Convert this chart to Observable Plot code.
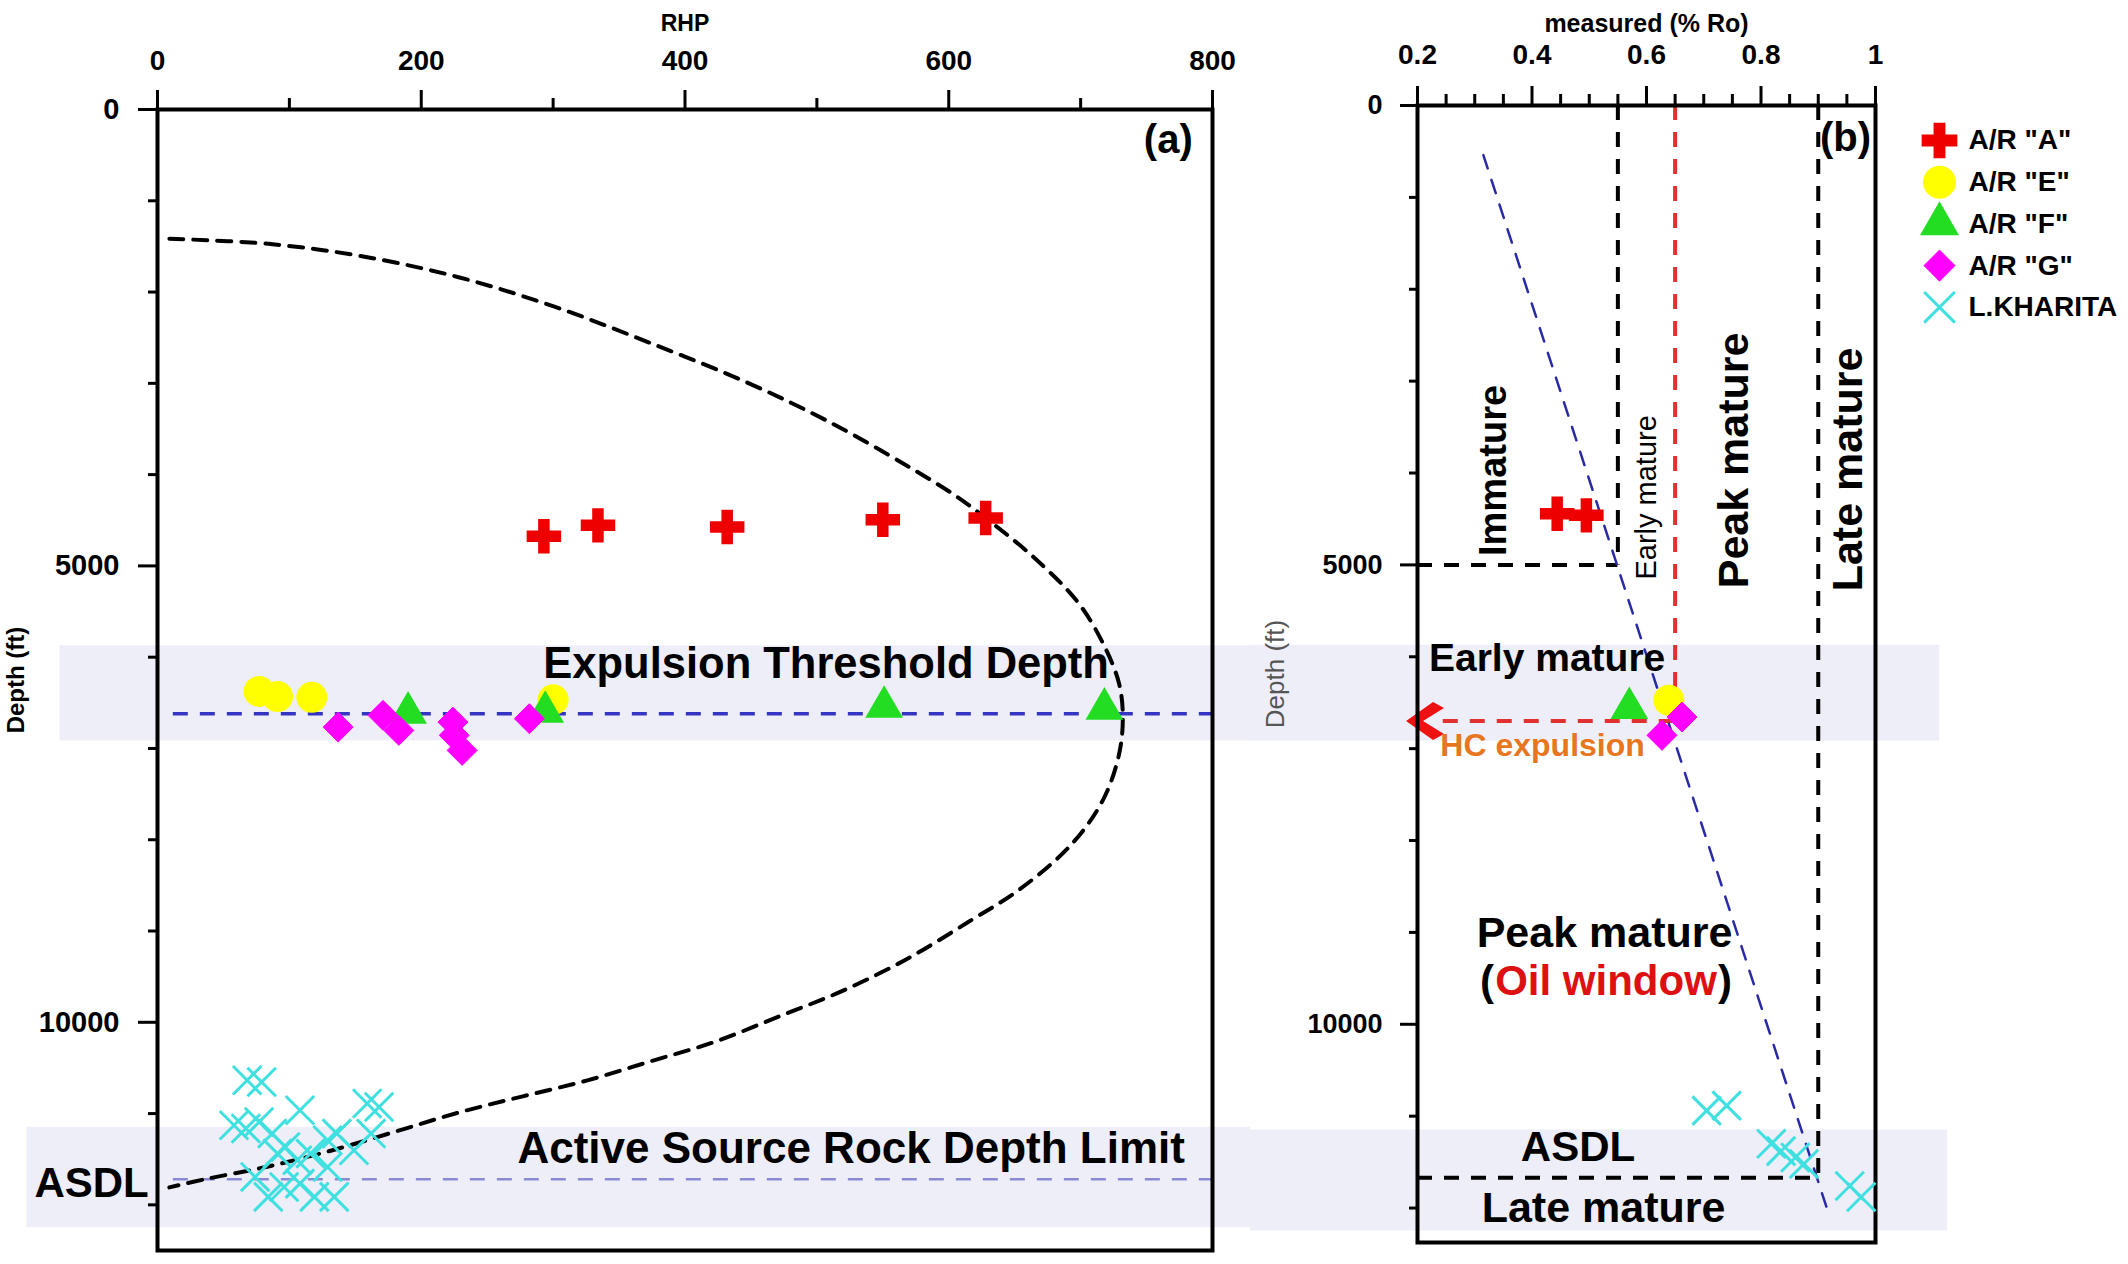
<!DOCTYPE html>
<html><head><meta charset="utf-8">
<script src="https://cdn.jsdelivr.net/npm/d3@7"></script>
<script src="https://cdn.jsdelivr.net/npm/@observablehq/plot@0.6"></script>
<style>
body{margin:0;background:#fff;}
#fig{position:relative;width:2128px;height:1264px;background:#fff;overflow:hidden;}
#pa{position:absolute;left:0;top:0;width:1250px;height:1264px;}
#pb{position:absolute;left:1250px;top:0;width:878px;height:1264px;}
</style></head><body>
<div id="fig"><div id="pa"></div><div id="pb"></div></div>
<script>
// ---------- DATA ----------
const seriesNames = ['A/R "A"', 'A/R "E"', 'A/R "F"', 'A/R "G"', 'L.KHARITA'];

// Panel (a): RHP vs depth (ft)
const rhpA = [293, 334, 432, 550, 628];
const depRhpA = [4674, 4556, 4575, 4494, 4476];
const rhpE = [77, 91, 117, 300];
const depRhpE = [6375, 6430, 6440, 6465];
const rhpF = [190, 294, 551, 718];
const depRhpF = [6610, 6600, 6545, 6565];
const rhpG = [137, 171, 183, 224, 225, 231, 282];
const depRhpG = [6766, 6637, 6802, 6711, 6856, 7021, 6674];
const rhpK = [68, 79, 58, 67, 77, 87, 108, 97, 106, 116, 129, 136, 159, 168, 162, 149, 74, 84, 96, 108, 119, 134, 129, 91];
const depRhpK = [10635, 10654, 11128, 11164, 11092, 11219, 10964, 11366, 11511, 11438, 11292, 11219, 10890, 10928, 11219, 11402, 11694, 11913, 11804, 11767, 11913, 11913, 11585, 11438];

// RHP envelope curve (dashed)
const curveRhp = [9, 84, 156, 229, 301, 374, 447, 509, 568, 605, 628, 664, 698, 717, 729, 732, 729, 717, 693, 654, 616, 568, 519, 471, 422, 374, 326, 277, 229, 181, 132, 84, 36, 9];
const curveDepth = [1416, 1472, 1610, 1840, 2160, 2560, 2990, 3420, 3900, 4230, 4476, 4900, 5400, 5850, 6280, 6655, 7073, 7563, 8052, 8541, 8891, 9309, 9658, 9938, 10217, 10427, 10636, 10811, 10986, 11195, 11404, 11579, 11719, 11809];

const etdDepth = 6620;      // expulsion threshold depth
const asdlDepthA = 11720;   // active source rock depth limit
const bandDepths = [[5875, 6918], [11150, 12250]];

// Panel (b): measured Ro vs depth (ft)
const roA = [0.444, 0.495];
const depRoA = [4443, 4461];
const roE = [0.639];
const depRoE = [6474];
const roF = [0.57];
const depRoF = [6560];
const roG = [0.662, 0.627];
const depRoG = [6656, 6855];
const roK = [0.705, 0.74, 0.818, 0.835, 0.86, 0.875, 0.955, 0.975];
const depRoK = [10940, 10885, 11300, 11380, 11450, 11520, 11760, 11880];

const roEarly = 0.55, roPeak = 0.65, roLate = 0.9;
const immatureDepth = 5000, hcDepth = 6700, asdlDepthB = 11670;
const trendRo = [0.315, 0.915];
const trendDepth = [540, 12000];

// ticks
const xTicksA = [0, 200, 400, 600, 800];
const xMinorA = [100, 300, 500, 700];
const yTicks = [0, 5000, 10000];
const yMinorA = [1000, 2000, 3000, 4000, 6000, 7000, 8000, 9000, 11000, 12000];
const xTicksB = [0.2, 0.4, 0.6, 0.8, 1];
const xMinorB = [0.25, 0.3, 0.35, 0.45, 0.5, 0.55, 0.65, 0.7, 0.75, 0.85, 0.9, 0.95];
const yMinorB = [1000, 2000, 3000, 4000, 6000, 7000, 8000, 9000, 11000, 12000];

// ---------- STYLE ----------
const FONT = '"Liberation Sans", Arial, Helvetica, sans-serif';
const bandColor = "#eeeef9";
const colA = "#ee0000", colE = "#ffff00", colF = "#22dd22", colG = "#ff00ff", colK = "#40e0e0";
const pts = (xs, ys) => xs.map((x, i) => ({x, y: ys[i]}));
const lbl = (t, o) => Plot.text([t], {text: d => d, fill: "black", lineAnchor: "middle", textAnchor: "middle", ...o});

const dotA = (d) => Plot.dot(d, {x: "x", y: "y", symbol: "cross", fill: colA, r: 14.5});
const dotE = (d) => Plot.dot(d, {x: "x", y: "y", symbol: "circle", fill: colE, r: 15.5});
const dotF = (d) => Plot.dot(d, {x: "x", y: "y", symbol: "triangle", fill: colF, r: 14});
const dotG = (d) => Plot.dot(d, {x: "x", y: "y", symbol: "diamond2", fill: colG, stroke: colG, strokeWidth: 1, r: 13.5});
const dotK = (d) => Plot.dot(d, {x: "x", y: "y", symbol: "times", stroke: colK, strokeWidth: 3, r: 13});

// ---------- PANEL (a) ----------
const bandAx1 = [-74, -99], bandAx2 = 829;
const plotA = Plot.plot({
  width: 1250, height: 1264,
  marginLeft: 157, marginRight: 38, marginTop: 109, marginBottom: 14,
  style: {background: "transparent", overflow: "visible", fontFamily: FONT, fontWeight: "bold", color: "black"},
  x: {domain: [0, 800], axis: null},
  y: {domain: [0, 12500], reverse: true, axis: null},
  marks: [
    Plot.rect(bandDepths, {x1: (d, i) => bandAx1[i], x2: bandAx2, y1: d => d[0], y2: d => d[1], fill: bandColor}),
    Plot.ruleY([etdDepth], {x1: 12, x2: 800, stroke: "#3535c4", strokeWidth: 3.5, strokeDasharray: "15,12"}),
    Plot.ruleY([asdlDepthA], {x1: 12, x2: 800, stroke: "#8a8ad4", strokeWidth: 2.5, strokeDasharray: "15,12"}),
    Plot.line(d3.zip(curveRhp, curveDepth), {x: d => d[0], y: d => d[1], stroke: "black", strokeWidth: 4, strokeDasharray: "14,10", curve: "catmull-rom"}),
    Plot.frame({stroke: "black", strokeWidth: 4}),
    Plot.axisX(xTicksA, {anchor: "top", tickSize: 20, tickPadding: 20, fontSize: 28, strokeWidth: 3, label: null, tickFormat: d => String(d)}),
    Plot.axisX(xMinorA, {anchor: "top", tickSize: 12, strokeWidth: 3, label: null, tickFormat: () => ""}),
    Plot.axisY(yTicks, {anchor: "left", tickSize: 19, tickPadding: 19, fontSize: 29, strokeWidth: 3, label: null, tickFormat: d => String(d)}),
    Plot.axisY(yMinorA, {anchor: "left", tickSize: 9, strokeWidth: 3, label: null, tickFormat: () => ""}),
    lbl("RHP", {frameAnchor: "top", dy: -86, fontSize: 23}),
    lbl("Depth (ft)", {frameAnchor: "left", dx: -141, rotate: -90, fontSize: 24}),
    lbl("(a)", {x: 785, y: 340, textAnchor: "end", fontSize: 40}),
    lbl("Expulsion Threshold Depth", {x: 507, y: 6075, fontSize: 43.5}),
    lbl("Active Source Rock Depth Limit", {x: 526, y: 11391, fontSize: 44}),
    lbl("ASDL", {x: -50, y: 11763, fontSize: 42}),
    dotA(pts(rhpA, depRhpA)),
    dotE(pts(rhpE, depRhpE)),
    dotF(pts(rhpF, depRhpF)),
    dotG(pts(rhpG, depRhpG)),
    dotK(pts(rhpK, depRhpK))
  ]
});
document.getElementById("pa").appendChild(plotA);

// ---------- PANEL (b) ----------
const chevron = {draw(ctx, size) {
  const k = Math.sqrt(size) / 36;
  ctx.moveTo(0, 0); ctx.lineTo(27 * k, -19 * k); ctx.lineTo(38 * k, -13 * k); ctx.lineTo(17 * k, 0);
  ctx.lineTo(38 * k, 13 * k); ctx.lineTo(27 * k, 19 * k); ctx.closePath();
}};
const bandBx1 = -0.092, bandBx2 = [1.112, 1.126];
const legendSym = ["cross", "circle", "triangle", "diamond2", "times"];
const legendFill = [colA, colE, colF, colG, "none"];
const legendStroke = ["none", "none", "none", colG, colK];
const legendR = [15, 16.5, 14.5, 14, 14];

const plotB = Plot.plot({
  width: 878, height: 1264,
  marginLeft: 167, marginRight: 253, marginTop: 105, marginBottom: 22,
  style: {background: "transparent", overflow: "visible", fontFamily: FONT, fontWeight: "bold", color: "black"},
  x: {domain: [0.2, 1], axis: null},
  y: {domain: [0, 12375], reverse: true, axis: null},
  marks: [
    Plot.rect(bandDepths, {x1: bandBx1, x2: (d, i) => bandBx2[i], y1: d => d[0], y2: d => d[1], fill: bandColor}),
    // maturity boundaries
    Plot.ruleX([roEarly], {y1: 0, y2: immatureDepth, stroke: "black", strokeWidth: 4, strokeDasharray: "15,12"}),
    Plot.ruleY([immatureDepth], {x1: 0.2, x2: roEarly, stroke: "black", strokeWidth: 4, strokeDasharray: "15,12"}),
    Plot.ruleX([roLate], {y1: 0, y2: asdlDepthB, stroke: "black", strokeWidth: 4, strokeDasharray: "15,12"}),
    Plot.ruleY([asdlDepthB], {x1: 0.2, x2: roLate, stroke: "black", strokeWidth: 4, strokeDasharray: "15,12"}),
    Plot.ruleX([roPeak], {y1: 0, y2: hcDepth, stroke: "#e03030", strokeWidth: 4, strokeDasharray: "15,12"}),
    Plot.ruleY([hcDepth], {x1: 0.245, x2: roPeak, stroke: "#e03030", strokeWidth: 4, strokeDasharray: "15,12"}),
    Plot.line(d3.zip(trendRo, trendDepth), {x: d => d[0], y: d => d[1], stroke: "#2a2aa8", strokeWidth: 2.5, strokeDasharray: "14,12"}),
    Plot.dot([hcDepth], {x: 0.18, y: d => d, symbol: chevron, fill: "#ee1111", r: 20.3}),
    Plot.frame({stroke: "black", strokeWidth: 4}),
    Plot.axisX(xTicksB, {anchor: "top", tickSize: 20, tickPadding: 22, fontSize: 28, strokeWidth: 3, label: null, tickFormat: d => String(d)}),
    Plot.axisX(xMinorB, {anchor: "top", tickSize: 12, strokeWidth: 3, label: null, tickFormat: () => ""}),
    Plot.axisY(yTicks, {anchor: "left", tickSize: 17, tickPadding: 18, fontSize: 27, strokeWidth: 3, label: null, tickFormat: d => String(d)}),
    Plot.axisY(yMinorB, {anchor: "left", tickSize: 8, strokeWidth: 3, label: null, tickFormat: () => ""}),
    lbl("measured (% Ro)", {frameAnchor: "top", dy: -82, fontSize: 25}),
    lbl("Depth (ft)", {frameAnchor: "left", dx: -142, rotate: -90, fontSize: 26, fill: "#555", fontWeight: "normal"}),
    lbl("(b)", {x: 0.9476, y: 359, fontSize: 40}),
    lbl("Immature", {x: 0.333, y: 3972, rotate: -90, fontSize: 38}),
    lbl("Early mature", {x: 0.6, y: 4265, rotate: -90, fontSize: 29, fontWeight: "normal"}),
    lbl("Peak mature", {x: 0.754, y: 3863, rotate: -90, fontSize: 43}),
    lbl("Late mature", {x: 0.953, y: 3961, rotate: -90, fontSize: 43}),
    lbl("Early mature", {x: 0.4264, y: 6017, fontSize: 39}),
    lbl("HC expulsion", {x: 0.4185, y: 6964, fontSize: 32, fill: "#e8761e"}),
    lbl("Peak mature", {x: 0.5267, y: 9004, fontSize: 43}),
    lbl("Oil window", {x: 0.5293, y: 9540, fontSize: 42, fill: "#dd1111"}),
    lbl("(", {x: 0.5293, y: 9540, dx: -112, textAnchor: "end", fontSize: 42}),
    lbl(")", {x: 0.5293, y: 9540, dx: 112, textAnchor: "start", fontSize: 42}),
    lbl("ASDL", {x: 0.4804, y: 11338, fontSize: 42}),
    lbl("Late mature", {x: 0.525, y: 11997, fontSize: 43}),
    dotA(pts(roA, depRoA)),
    dotE(pts(roE, depRoE)),
    dotF(pts(roF, depRoF)),
    dotG(pts(roG, depRoG)),
    dotK(pts(roK, depRoK)),
    // legend
    ...seriesNames.flatMap((name, i) => [
      Plot.dot([name], {frameAnchor: "top-right", dx: 64, dy: 35 + i * 41.7, symbol: legendSym[i], fill: legendFill[i], stroke: legendStroke[i], strokeWidth: i === 4 ? 3 : 1, r: legendR[i]}),
      lbl(name, {frameAnchor: "top-right", dx: 93, dy: 35 + i * 41.7, textAnchor: "start", fontSize: 28})
    ])
  ]
});
document.getElementById("pb").appendChild(plotB);
</script></body></html>
